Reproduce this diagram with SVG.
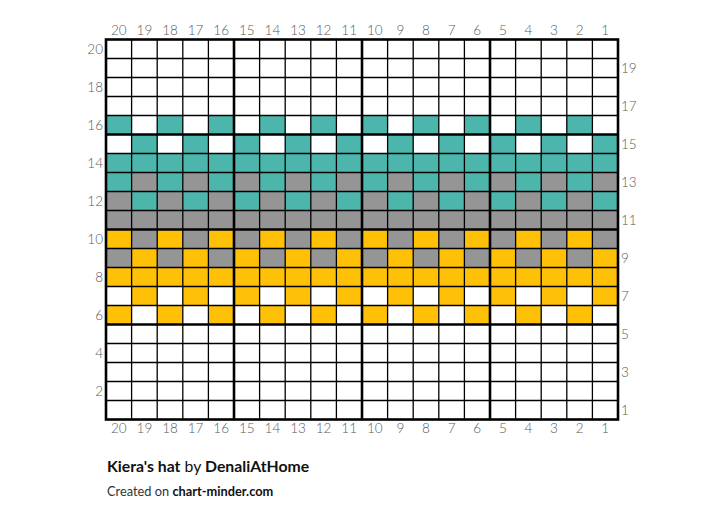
<svg xmlns="http://www.w3.org/2000/svg" width="724" height="522" viewBox="0 0 724 522">
<defs>
<style>
.num{font-family:Lato,"Liberation Sans",sans-serif;font-size:13.5px;fill:#5a5a5a;font-weight:300}
.tc{text-anchor:middle}
.le{text-anchor:end}
.thin{stroke:#000;stroke-width:1.3;fill:none}
.thick{stroke:#000;stroke-width:2.6;fill:none}
.t{font-family:Lato,"Liberation Sans",sans-serif;fill:#111}
</style>
<pattern id="evT" patternUnits="userSpaceOnUse" x="106" y="0" width="51.2" height="1000"><rect x="0" y="0" width="25.6" height="1000" fill="#4DB6AC"/></pattern>
<pattern id="odT" patternUnits="userSpaceOnUse" x="131.6" y="0" width="51.2" height="1000"><rect x="0" y="0" width="25.6" height="1000" fill="#4DB6AC"/></pattern>
<pattern id="evY" patternUnits="userSpaceOnUse" x="106" y="0" width="51.2" height="1000"><rect x="0" y="0" width="25.6" height="1000" fill="#FFC107"/></pattern>
<pattern id="odY" patternUnits="userSpaceOnUse" x="131.6" y="0" width="51.2" height="1000"><rect x="0" y="0" width="25.6" height="1000" fill="#FFC107"/></pattern>
</defs>
<rect width="724" height="522" fill="#fff"/>
<g id="cells">
<rect x="106" y="115.5" width="512" height="19" fill="url(#evT)"/>
<rect x="106" y="134.5" width="512" height="19" fill="url(#odT)"/>
<rect x="106" y="153.5" width="512" height="19" fill="#4DB6AC"/>
<rect x="106" y="172.5" width="512" height="19" fill="#959595"/>
<rect x="106" y="172.5" width="512" height="19" fill="url(#evT)"/>
<rect x="106" y="191.5" width="512" height="19" fill="#959595"/>
<rect x="106" y="191.5" width="512" height="19" fill="url(#odT)"/>
<rect x="106" y="210.5" width="512" height="19" fill="#959595"/>
<rect x="106" y="229.5" width="512" height="19" fill="#959595"/>
<rect x="106" y="229.5" width="512" height="19" fill="url(#evY)"/>
<rect x="106" y="248.5" width="512" height="19" fill="#959595"/>
<rect x="106" y="248.5" width="512" height="19" fill="url(#odY)"/>
<rect x="106" y="267.5" width="512" height="19" fill="#FFC107"/>
<rect x="106" y="286.5" width="512" height="19" fill="url(#odY)"/>
<rect x="106" y="305.5" width="512" height="19" fill="url(#evY)"/>
</g>
<g id="grid">
<path class="thin" d="M131.6 39.5V419.5M157.2 39.5V419.5M182.8 39.5V419.5M208.4 39.5V419.5M259.6 39.5V419.5M285.2 39.5V419.5M310.8 39.5V419.5M336.4 39.5V419.5M387.6 39.5V419.5M413.2 39.5V419.5M438.8 39.5V419.5M464.4 39.5V419.5M515.6 39.5V419.5M541.2 39.5V419.5M566.8 39.5V419.5M592.4 39.5V419.5"/>
<path class="thin" d="M106 58.5H618M106 77.5H618M106 96.5H618M106 115.5H618M106 153.5H618M106 172.5H618M106 191.5H618M106 210.5H618M106 248.5H618M106 267.5H618M106 286.5H618M106 305.5H618M106 343.5H618M106 362.5H618M106 381.5H618M106 400.5H618"/>
<path class="thick" d="M234 39.5V419.5M362 39.5V419.5M490 39.5V419.5M106 134.5H618M106 229.5H618M106 324.5H618"/>
<rect class="thick" x="106" y="39.5" width="512" height="380"/>
</g>
<g id="top-labels" class="num tc">
<text x="118.8" y="35">20</text><text x="144.4" y="35">19</text><text x="170" y="35">18</text><text x="195.6" y="35">17</text><text x="221.2" y="35">16</text><text x="246.8" y="35">15</text><text x="272.4" y="35">14</text><text x="298" y="35">13</text><text x="323.6" y="35">12</text><text x="349.2" y="35">11</text><text x="374.8" y="35">10</text><text x="400.4" y="35">9</text><text x="426" y="35">8</text><text x="451.6" y="35">7</text><text x="477.2" y="35">6</text><text x="502.8" y="35">5</text><text x="528.4" y="35">4</text><text x="554" y="35">3</text><text x="579.6" y="35">2</text><text x="605.2" y="35">1</text>
</g>
<g id="bottom-labels" class="num tc">
<text x="118.8" y="433">20</text><text x="144.4" y="433">19</text><text x="170" y="433">18</text><text x="195.6" y="433">17</text><text x="221.2" y="433">16</text><text x="246.8" y="433">15</text><text x="272.4" y="433">14</text><text x="298" y="433">13</text><text x="323.6" y="433">12</text><text x="349.2" y="433">11</text><text x="374.8" y="433">10</text><text x="400.4" y="433">9</text><text x="426" y="433">8</text><text x="451.6" y="433">7</text><text x="477.2" y="433">6</text><text x="502.8" y="433">5</text><text x="528.4" y="433">4</text><text x="554" y="433">3</text><text x="579.6" y="433">2</text><text x="605.2" y="433">1</text>
</g>
<g id="left-labels" class="num le">
<text x="103" y="54">20</text><text x="103" y="92">18</text><text x="103" y="130">16</text><text x="103" y="168">14</text><text x="103" y="206">12</text><text x="103" y="244">10</text><text x="103" y="282">8</text><text x="103" y="320">6</text><text x="103" y="358">4</text><text x="103" y="396">2</text>
</g>
<g id="right-labels" class="num">
<text x="621" y="73">19</text><text x="621" y="111">17</text><text x="621" y="149">15</text><text x="621" y="187">13</text><text x="621" y="225">11</text><text x="621" y="263">9</text><text x="621" y="301">7</text><text x="621" y="339">5</text><text x="621" y="377">3</text><text x="621" y="415">1</text>
</g>
<g id="caption">
<text class="t" x="107" y="472" font-size="15.8"><tspan font-weight="bold">Kiera's hat</tspan> by <tspan font-weight="bold">DenaliAtHome</tspan></text>
<text class="t" x="107" y="496" font-size="12.8"><tspan fill="#333">Created on </tspan><tspan font-weight="bold">chart-minder.com</tspan></text>
</g>
</svg>
